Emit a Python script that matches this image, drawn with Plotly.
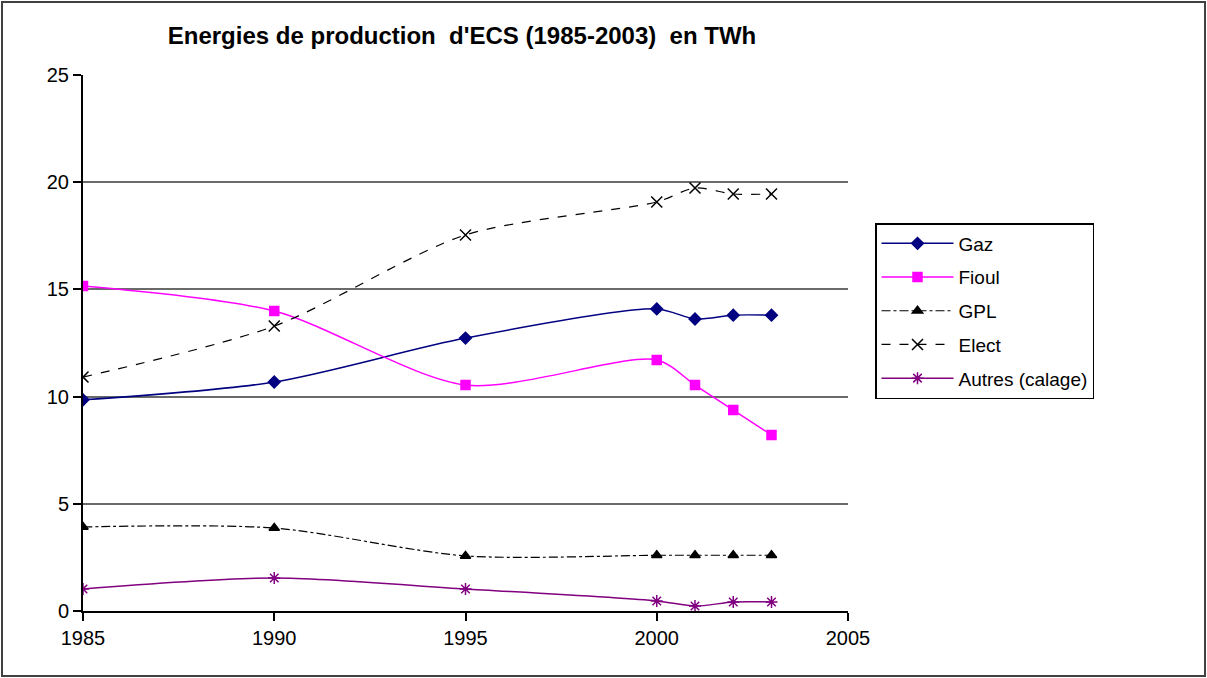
import plotly.graph_objects as go

years = [1985, 1990, 1995, 2000, 2001, 2002, 2003]
gaz = [9.85, 10.68, 12.73, 14.09, 13.62, 13.8, 13.8]
fioul = [15.16, 13.99, 10.54, 11.71, 10.54, 9.37, 8.21]
gpl = [3.92, 3.87, 2.57, 2.6, 2.6, 2.6, 2.6]
elect = [10.91, 13.29, 17.54, 19.08, 19.73, 19.45, 19.45]
autres = [1.03, 1.54, 1.03, 0.47, 0.23, 0.42, 0.42]

title_text = "Energies de production  d'ECS (1985-2003)  en TWh"
x_ticks = [1985, 1990, 1995, 2000, 2005]
y_ticks = [0, 5, 10, 15, 20, 25]

W, H = 1207, 678
L, R, T, B = 83, 848, 75, 611

series = [
    ("Gaz", gaz, "#000080", "solid", "diamond", 9, 1.5),
    ("Fioul", fioul, "#FF00FF", "solid", "square", 9, 1.5),
    ("GPL", gpl, "#000000", "dashdot", "triangle-up", 9, 1.2),
    ("Elect", elect, "#000000", "dash", "x-thin-open", 11, 1.2),
    ("Autres (calage)", autres, "#800080", "solid", "asterisk-open", 10, 1.5),
]

fig = go.Figure()
for i, (name, vals, col, dash, sym, size, lw) in enumerate(series):
    fig.add_trace(go.Scatter(
        x=years, y=vals, name=name, mode="lines+markers",
        line=dict(color=col, dash=dash, width=lw, shape="spline", smoothing=0.8),
        marker=dict(symbol=sym, size=size, color=col,
                    line=dict(color=col, width=1.5)),
        legendgroup=f"g{i}",
    ))

pw = R - L
ph = B - T
fig.update_layout(
    width=W, height=H,
    margin=dict(l=L, r=W - R, t=T, b=H - B, pad=0),
    paper_bgcolor="white", plot_bgcolor="white",
    font=dict(family="Liberation Sans, Arial, sans-serif", color="#000000"),
    title=dict(text=f"<b>{title_text}</b>", x=462 / W, xanchor="center",
               y=1 - 36 / H, yanchor="middle",
               font=dict(size=24, family="Liberation Sans, Arial")),
    showlegend=True,
    legend=dict(
        x=(875 - L) / pw, y=(B - 223) / ph, xanchor="left", yanchor="top",
        bordercolor="#000000", borderwidth=1.5, bgcolor="white",
        font=dict(size=19, family="Liberation Sans, Arial"),
        tracegroupgap=6, traceorder="grouped",
        itemwidth=72,
    ),
    xaxis=dict(
        range=[1985, 2005], tickvals=x_ticks, ticktext=[str(v) for v in x_ticks],
        showgrid=False, zeroline=False, showline=True, linecolor="#000000", linewidth=2,
        ticks="outside", ticklen=8, tickcolor="#000000", tickwidth=1.5,
        tickfont=dict(size=20, family="Liberation Sans, Arial"),
    ),
    yaxis=dict(
        range=[0, 25], tickvals=y_ticks, ticktext=[str(v) for v in y_ticks],
        showgrid=True, gridcolor="#6a6a6a", gridwidth=2,
        zeroline=False, showline=True, linecolor="#000000", linewidth=2,
        ticks="outside", ticklen=8, tickcolor="#000000", tickwidth=1.5,
        tickfont=dict(size=20, family="Liberation Sans, Arial"),
    ),
)

# outer frame of the chart area
fig.add_shape(type="rect", xref="paper", yref="paper",
              x0=(2 - L) / pw, x1=(W - 2 - L) / pw,
              y0=(B - (H - 2)) / ph, y1=(B - 2) / ph,
              line=dict(color="#404040", width=2), fillcolor="rgba(0,0,0,0)", layer="below")

fig.write_html("out.html", config={"displayModeBar": False},
               post_script="document.body.style.margin='0px';document.body.style.overflow='hidden';")
